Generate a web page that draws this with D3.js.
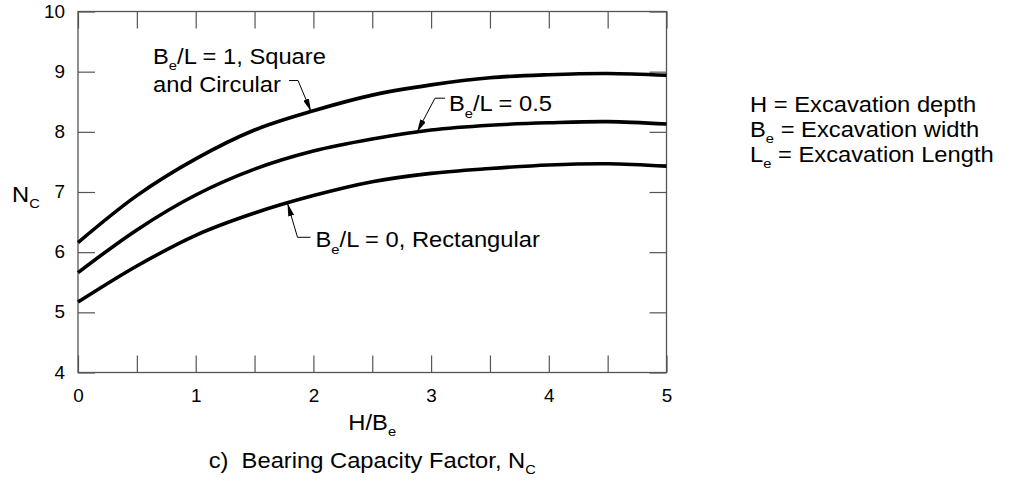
<!DOCTYPE html>
<html>
<head>
<meta charset="utf-8">
<script src="https://cdn.jsdelivr.net/npm/d3@7/dist/d3.min.js"></script>
<style>
  body { margin: 0; background: #fff; }
  text { font-family: "Liberation Sans", Arial, Helvetica, sans-serif; fill: #000; }
</style>
</head>
<body>
<div id="chart"></div>
<script>
// values (H/Be vs Nc)
const hb = [0, 0.5, 1, 1.5, 2, 2.5, 3, 3.5, 4, 4.5, 5];
const ncSquare = [6.16, 6.94, 7.55, 8.03, 8.35, 8.61, 8.78, 8.90, 8.95, 8.97, 8.94];
const ncHalf   = [5.66, 6.37, 6.95, 7.38, 7.68, 7.88, 8.03, 8.11, 8.15, 8.17, 8.13];
const ncRect   = [5.17, 5.77, 6.28, 6.65, 6.94, 7.17, 7.31, 7.39, 7.45, 7.47, 7.43];
const xTicks = [0, 1, 2, 3, 4, 5];
const xMinor = [0, 0.5, 1, 1.5, 2, 2.5, 3, 3.5, 4, 4.5, 5];
const yTicks = [4, 5, 6, 7, 8, 9, 10];
const legendLines = [["H", "", " = Excavation depth"], ["B", "e", " = Excavation width"], ["L", "e", " = Excavation Length"]];

const W = 1013, H = 482;
const margin = {top: 11.5, left: 78, right: 346.5, bottom: 109.5};
const width = W - margin.left - margin.right,
      height = H - margin.top - margin.bottom;
const stretch = 1.12;   // the lettering in the figure is drawn a bit wide

const svg = d3.select("#chart").append("svg")
  .attr("width", W)
  .attr("height", H);

const defs = svg.append("defs");
defs.append("marker")
  .attr("id", "arrow")
  .attr("markerUnits", "userSpaceOnUse")
  .attr("viewBox", "0 0 13 6")
  .attr("refX", 13).attr("refY", 3)
  .attr("markerWidth", 13).attr("markerHeight", 6)
  .attr("orient", "auto")
  .append("path")
  .attr("d", "M0,0 L13,3 L0,6 Z")
  .attr("fill", "#000");

const g = svg.append("g").attr("transform", `translate(${margin.left},${margin.top})`);

const x = d3.scaleLinear().domain([0, 5]).range([0, width]);
const y = d3.scaleLinear().domain([4, 10]).range([height, 0]);

// ticks, all pointing inward
const axisColor = "#555";
const tickFont = 17.5;
function styleAxis(sel) {
  sel.select(".domain").remove();
  sel.selectAll(".tick line").attr("stroke", axisColor).attr("stroke-width", 1.2);
  sel.selectAll("text").style("font-size", tickFont + "px").attr("fill", "#000");
}

g.append("g")
  .attr("transform", `translate(0,${height})`)
  .call(d3.axisBottom(x).tickValues(xMinor).tickSize(-17).tickPadding(17)
    .tickFormat(d => xTicks.includes(d) ? d : ""))
  .call(styleAxis)
  .selectAll("text").attr("transform", "scale(1.08,1)");

g.append("g")
  .call(d3.axisTop(x).tickValues(xMinor).tickSize(-17).tickFormat(""))
  .call(styleAxis);

g.append("g")
  .call(d3.axisLeft(y).tickValues(yTicks).tickSize(-17).tickFormat(d3.format("d")))
  .call(styleAxis)
  .selectAll("text").attr("x", 0).attr("transform", "translate(-13,0) scale(1.08,1)");

g.append("g")
  .attr("transform", `translate(${width},0)`)
  .call(d3.axisRight(y).tickValues(yTicks).tickSize(-17).tickFormat(""))
  .call(styleAxis);

g.append("rect")
  .attr("width", width).attr("height", height)
  .attr("fill", "none")
  .attr("stroke", axisColor)
  .attr("stroke-width", 1.3);

// curves
const series = [ncSquare, ncHalf, ncRect];
const line = d3.line()
  .x((d, i) => x(hb[i]))
  .y(d => y(d))
  .curve(d3.curveCatmullRom.alpha(0.5));

g.selectAll(".curve")
  .data(series)
  .enter().append("path")
  .attr("class", "curve")
  .attr("d", line)
  .attr("fill", "none")
  .attr("stroke", "#000")
  .attr("stroke-width", 3.6)
  .attr("stroke-linejoin", "round");

function valueAt(s, v) {
  const i = Math.min(Math.floor(v / 0.5), hb.length - 2);
  const t = (v - hb[i]) / (hb[i + 1] - hb[i]);
  return s[i] + t * (s[i + 1] - s[i]);
}

// wide text with optional subscripts, placed at (px, py)
function label(parent, px, py, parts, size, anchor) {
  const t = parent.append("text")
    .attr("transform", `translate(${px},${py}) scale(${stretch},1)`)
    .attr("text-anchor", anchor || "start")
    .style("font-size", size + "px")
    .style("white-space", "pre");
  let back = 0;
  parts.forEach(p => {
    const ts = t.append("tspan").text(p.t);
    if (p.sub) {
      ts.style("font-size", (size * 0.62) + "px").attr("dy", size * 0.3);
      back = -size * 0.3;
    } else if (back) {
      ts.attr("dy", back);
      back = 0;
    }
  });
  return t;
}

const annFont = 21.2;

// annotation 1: Be/L = 1
const tip1 = [x(1.98), y(valueAt(ncSquare, 1.98))];
label(g, 75, 52, [{t: "B"}, {t: "e", sub: true}, {t: "/L = 1, Square"}], annFont);
label(g, 75, 80, [{t: "and Circular"}], annFont);
g.append("path")
  .attr("d", `M${tip1[0] - 22},${tip1[1] - 31} H${tip1[0] - 13} L${tip1[0]},${tip1[1]}`)
  .attr("fill", "none").attr("stroke", "#000").attr("stroke-width", 1)
  .attr("marker-end", "url(#arrow)");

// annotation 2: Be/L = 0.5
const tip2 = [x(2.88), y(valueAt(ncHalf, 2.88))];
label(g, tip2[0] + 32, tip2[1] - 21, [{t: "B"}, {t: "e", sub: true}, {t: "/L = 0.5"}], annFont);
g.append("path")
  .attr("d", `M${tip2[0] + 28},${tip2[1] - 34} H${tip2[0] + 18} L${tip2[0]},${tip2[1]}`)
  .attr("fill", "none").attr("stroke", "#000").attr("stroke-width", 1)
  .attr("marker-end", "url(#arrow)");

// annotation 3: Be/L = 0
const tip3 = [x(1.78), y(valueAt(ncRect, 1.78))];
label(g, tip3[0] + 28, tip3[1] + 44, [{t: "B"}, {t: "e", sub: true}, {t: "/L = 0, Rectangular"}], annFont);
g.append("path")
  .attr("d", `M${tip3[0] + 23},${tip3[1] + 34} H${tip3[0] + 10} L${tip3[0]},${tip3[1]}`)
  .attr("fill", "none").attr("stroke", "#000").attr("stroke-width", 1)
  .attr("marker-end", "url(#arrow)");

// y axis label
label(svg, 12, 202, [{t: "N"}, {t: "C", sub: true}], annFont);

// x axis label
label(svg, margin.left + width / 2, 430, [{t: "H/B"}, {t: "e", sub: true}], annFont, "middle");

// caption
label(svg, margin.left + width / 2, 468, [{t: "c)  Bearing Capacity Factor, N"}, {t: "C", sub: true}], annFont, "middle");

// definitions at right
legendLines.forEach((l, i) => {
  const parts = [{t: l[0]}];
  if (l[1]) parts.push({t: l[1], sub: true});
  parts.push({t: l[2]});
  label(svg, 750, 112 + i * 25, parts, annFont);
});
</script>
</body>
</html>
